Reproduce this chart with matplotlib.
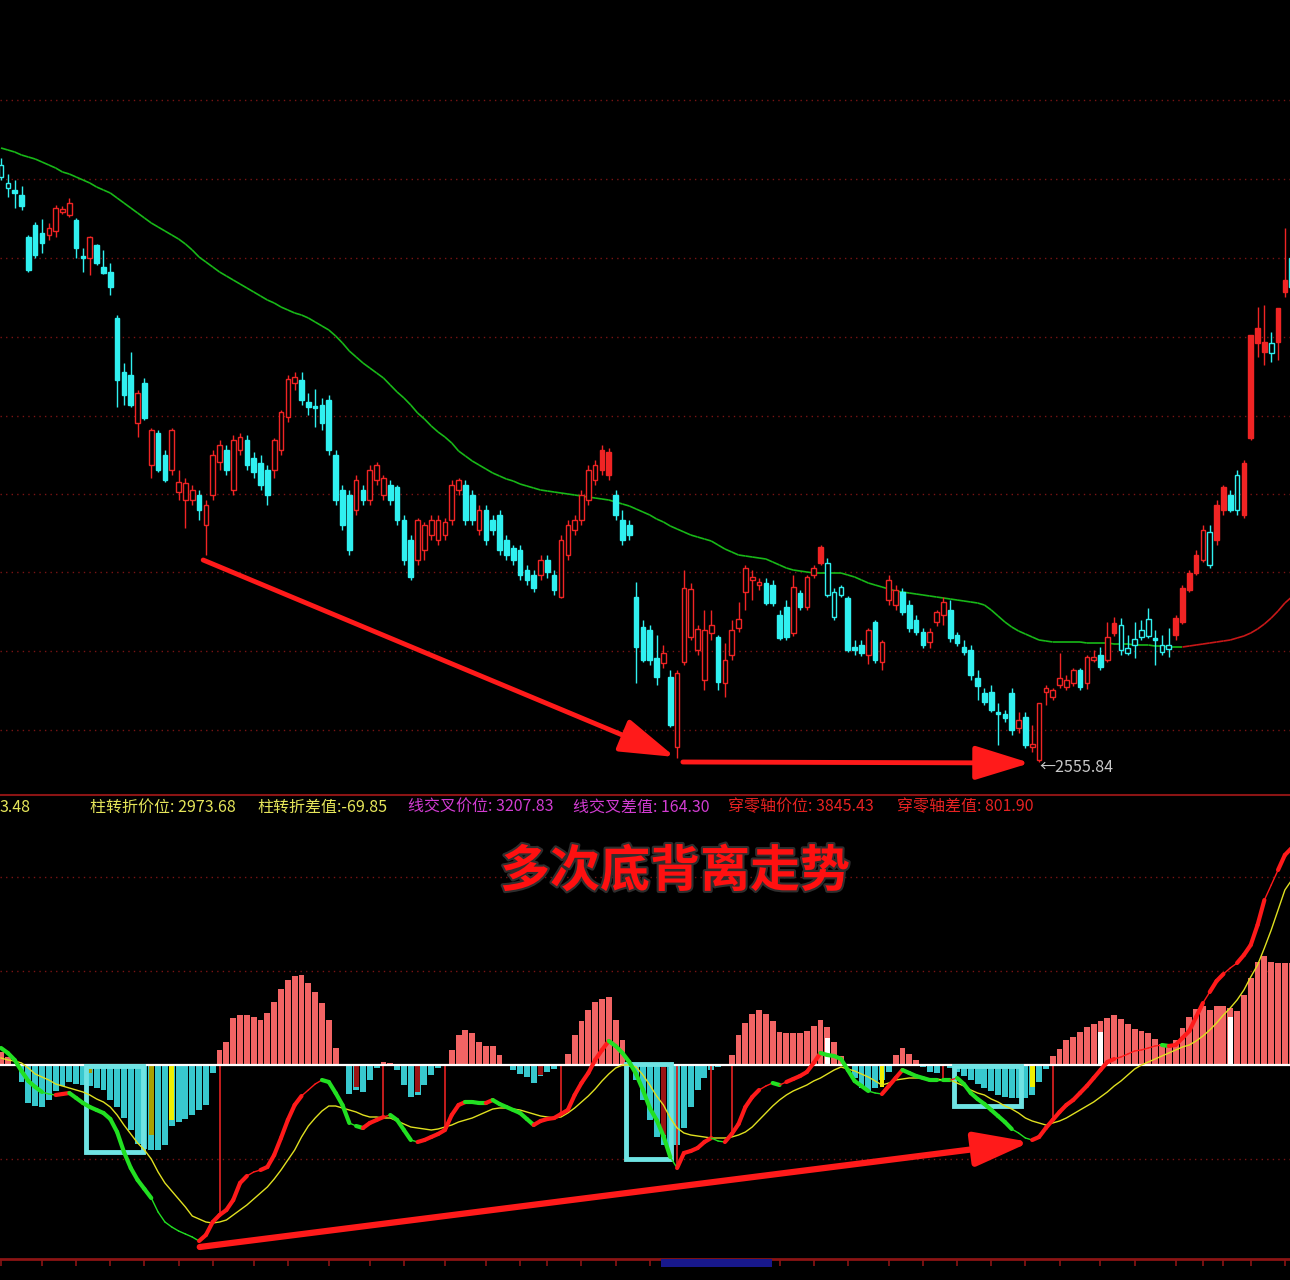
import numpy as np
import matplotlib.pyplot as plt
import matplotlib.patheffects as pe
from matplotlib.patches import Rectangle
from matplotlib.collections import LineCollection
from matplotlib.lines import Line2D

plt.rcParams['font.family'] = ['Noto Sans CJK SC', 'DejaVu Sans']

# ---- K线数据 (开 高 低 收) ----
opn = [3153, 3135, 3128, 3123, 3081, 3093, 3085, 3083, 3087, 3106,
       3103, 3098, 3062, 3060, 3073, 3051, 3046, 3000, 2946, 2943,
       2895, 2935, 2853, 2885, 2863, 2848, 2826, 2818, 2818, 2823,
       2793, 2823, 2856, 2868, 2828, 2868, 2878, 2860, 2855, 2848,
       2848, 2868, 2901, 2935, 2938, 2916, 2912, 2913, 2918, 2863,
       2828, 2823, 2808, 2828, 2818, 2838, 2823, 2833, 2831, 2798,
       2778, 2758, 2768, 2783, 2778, 2783, 2798, 2828, 2833, 2823,
       2788, 2808, 2798, 2803, 2778, 2770, 2768, 2748, 2743, 2743,
       2758, 2743, 2721, 2763, 2788, 2798, 2818, 2838, 2848, 2843,
       2823, 2798, 2793, 2721, 2691, 2688, 2660, 2655, 2641, 2571,
       2656, 2681, 2668, 2638, 2685, 2681, 2635, 2663, 2690, 2726,
       2738, 2733, 2735, 2733, 2703, 2711, 2685, 2725, 2711, 2743,
       2755, 2755, 2726, 2731, 2720, 2671, 2673, 2663, 2696, 2656,
       2718, 2713, 2726, 2713, 2698, 2686, 2676, 2696, 2703, 2708,
       2683, 2671, 2668, 2640, 2625, 2626, 2606, 2604, 2625, 2590,
       2601, 2571, 2558, 2626, 2621, 2633, 2631, 2635, 2648, 2635,
       2658, 2663, 2658, 2685, 2693, 2670, 2679, 2688, 2699, 2680,
       2673, 2673, 2683, 2696, 2728, 2745, 2758, 2786, 2778, 2808,
       2823, 2843, 2803, 2880, 2975, 2966, 2975, 2976, 3026, 3060]
high = [3160, 3144, 3138, 3132, 3083, 3096, 3099, 3095, 3113, 3112,
        3120, 3100, 3070, 3082, 3074, 3068, 3055, 3003, 2955, 2966,
        2928, 2940, 2890, 2888, 2868, 2890, 2848, 2840, 2833, 2828,
        2818, 2868, 2878, 2873, 2883, 2885, 2883, 2866, 2863, 2853,
        2880, 2908, 2943, 2946, 2946, 2925, 2929, 2920, 2923, 2868,
        2833, 2828, 2843, 2833, 2853, 2856, 2843, 2838, 2833, 2803,
        2783, 2800, 2796, 2803, 2803, 2800, 2838, 2840, 2838, 2828,
        2813, 2813, 2803, 2808, 2783, 2773, 2773, 2753, 2748, 2763,
        2763, 2748, 2783, 2798, 2803, 2828, 2853, 2858, 2873, 2870,
        2828, 2808, 2798, 2736, 2698, 2693, 2683, 2673, 2648, 2648,
        2748, 2735, 2693, 2708, 2708, 2683, 2675, 2698, 2716, 2753,
        2748, 2740, 2740, 2738, 2708, 2718, 2743, 2728, 2743, 2753,
        2773, 2760, 2730, 2733, 2722, 2678, 2678, 2690, 2698, 2678,
        2743, 2733, 2730, 2718, 2703, 2690, 2690, 2708, 2721, 2718,
        2686, 2678, 2673, 2648, 2630, 2633, 2615, 2608, 2630, 2606,
        2606, 2593, 2615, 2633, 2630, 2665, 2643, 2650, 2650, 2663,
        2668, 2671, 2696, 2701, 2700, 2683, 2696, 2698, 2710, 2688,
        2683, 2690, 2703, 2733, 2748, 2768, 2793, 2793, 2818, 2833,
        2828, 2848, 2858, 2983, 3011, 3013, 2986, 3010, 3090, 3068]
low = [3138, 3121, 3110, 3108, 3046, 3060, 3065, 3078, 3081, 3104,
       3101, 3060, 3046, 3043, 3053, 3044, 3023, 2911, 2913, 2911,
       2881, 2898, 2840, 2846, 2836, 2843, 2818, 2790, 2813, 2798,
       2763, 2818, 2848, 2843, 2823, 2863, 2848, 2840, 2828, 2813,
       2840, 2863, 2896, 2928, 2913, 2903, 2891, 2888, 2863, 2813,
       2788, 2763, 2803, 2813, 2813, 2833, 2818, 2813, 2793, 2753,
       2738, 2753, 2758, 2778, 2773, 2778, 2793, 2823, 2793, 2793,
       2783, 2773, 2783, 2763, 2758, 2753, 2738, 2733, 2726, 2738,
       2740, 2723, 2720, 2758, 2783, 2793, 2813, 2833, 2843, 2838,
       2798, 2773, 2778, 2635, 2656, 2653, 2633, 2650, 2591, 2560,
       2653, 2678, 2663, 2628, 2678, 2628, 2621, 2658, 2686, 2708,
       2718, 2728, 2713, 2712, 2678, 2678, 2682, 2708, 2708, 2740,
       2753, 2721, 2698, 2721, 2666, 2663, 2662, 2654, 2655, 2648,
       2713, 2708, 2703, 2686, 2683, 2670, 2670, 2692, 2693, 2676,
       2672, 2663, 2638, 2618, 2613, 2606, 2573, 2596, 2583, 2585,
       2570, 2566, 2555.84, 2613, 2618, 2630, 2628, 2632, 2628, 2629,
       2656, 2648, 2656, 2682, 2663, 2663, 2660, 2678, 2680, 2653,
       2663, 2661, 2678, 2694, 2726, 2743, 2756, 2750, 2773, 2803,
       2806, 2803, 2800, 2878, 2961, 2953, 2956, 2958, 3021, 3028]
close = [3141, 3130, 3125, 3112, 3048, 3063, 3075, 3090, 3110, 3109,
         3115, 3070, 3060, 3081, 3055, 3045, 3031, 2938, 2923, 2913,
         2925, 2900, 2888, 2848, 2838, 2888, 2836, 2835, 2828, 2808,
         2813, 2863, 2873, 2848, 2878, 2881, 2853, 2846, 2833, 2823,
         2878, 2906, 2939, 2941, 2918, 2911, 2910, 2895, 2868, 2818,
         2793, 2768, 2838, 2818, 2848, 2853, 2840, 2818, 2798, 2758,
         2741, 2798, 2793, 2798, 2798, 2796, 2833, 2838, 2798, 2798,
         2808, 2778, 2788, 2768, 2763, 2758, 2743, 2738, 2730, 2758,
         2746, 2728, 2778, 2793, 2798, 2823, 2848, 2853, 2868, 2866,
         2803, 2778, 2783, 2671, 2658, 2658, 2641, 2665, 2593, 2645,
         2730, 2729, 2689, 2688, 2693, 2636, 2658, 2688, 2699, 2750,
         2741, 2736, 2715, 2715, 2680, 2681, 2731, 2711, 2741, 2750,
         2771, 2723, 2701, 2723, 2668, 2668, 2665, 2688, 2658, 2676,
         2738, 2728, 2706, 2690, 2686, 2673, 2686, 2706, 2716, 2680,
         2675, 2666, 2643, 2632, 2616, 2608, 2604, 2600, 2588, 2598,
         2573, 2574, 2615, 2630, 2628, 2640, 2638, 2648, 2631, 2661,
         2661, 2651, 2681, 2695, 2668, 2665, 2673, 2681, 2682, 2678,
         2666, 2669, 2700, 2730, 2745, 2763, 2788, 2753, 2813, 2831,
         2808, 2808, 2855, 2983, 2990, 2976, 2965, 3010, 3038, 3031]
ma = [3170, 3168, 3166, 3163, 3161, 3159, 3156, 3153, 3150, 3146,
      3144, 3141, 3138, 3135, 3131, 3128, 3125, 3120, 3115, 3110,
      3105, 3100, 3095, 3091, 3087, 3083, 3079, 3074, 3068, 3061,
      3056, 3051, 3046, 3042, 3038, 3034, 3030, 3026, 3022, 3018,
      3015, 3011, 3008, 3005, 3003, 3000, 2996, 2992, 2988, 2982,
      2975, 2967, 2961, 2955, 2950, 2945, 2940, 2933, 2926, 2920,
      2913, 2905, 2899, 2892, 2886, 2881, 2875, 2867, 2862, 2857,
      2853, 2849, 2845, 2842, 2839, 2837, 2834, 2832, 2830, 2828,
      2827, 2826, 2825, 2824, 2823, 2822, 2821, 2820, 2819, 2818,
      2816, 2814, 2812, 2809, 2806, 2803, 2799, 2796, 2792, 2789,
      2786, 2783, 2781, 2779, 2777, 2773, 2769, 2766, 2763, 2762,
      2761, 2760, 2759, 2756, 2753, 2750, 2748, 2747, 2746, 2745,
      2745, 2745, 2745, 2745, 2743, 2741, 2738, 2735, 2733, 2731,
      2729, 2727, 2726, 2725, 2724, 2723, 2722, 2721, 2720, 2719,
      2718, 2717, 2716, 2715, 2713, 2708, 2702, 2696, 2691, 2687,
      2684, 2681, 2678, 2677, 2676, 2676, 2676, 2676, 2676, 2675,
      2675, 2675, 2675, 2674, 2674, 2674, 2673, 2673, 2673, 2672,
      2672, 2671, 2671, 2671, 2672, 2673, 2674, 2675, 2676, 2677,
      2678, 2680, 2682, 2685, 2689, 2694, 2700, 2707, 2715, 2721]

# ---- 指标数据 ----
dif = [8.5, 6, 2.5, -3, -8, -11, -13.5, -14.5, -15, -14.5,
       -14, -16.5, -19, -21, -22.5, -24, -27, -33.5, -43.5, -51.5,
       -57.5, -62, -66.5, -73.5, -78.5, -81, -83, -84.5, -86, -88,
       -85, -78.5, -75, -72.5, -67.5, -59, -55.5, -53.5, -52.5, -51,
       -45, -36.5, -27.5, -20, -15.5, -12.5, -9.5, -7.5, -8.5, -14,
       -20, -29, -30.5, -31.5, -29, -27.5, -26, -25, -27.5, -32.5,
       -37.5, -38.5, -37.5, -36, -34.5, -32.5, -25, -20, -18.5, -18.5,
       -19, -19, -17.5, -19.5, -21, -22.5, -24, -27, -30, -28,
       -27, -26.5, -24.5, -22.5, -15, -9, -4, 2.5, 7.5, 12,
       9.5, 6, 1.5, -4.5, -12.5, -21.5, -27.5, -35.5, -46, -51.5,
       -44, -43, -41.5, -38.5, -36.5, -38, -38.5, -34.5, -29.5, -21,
       -16, -12.5, -10.5, -9, -10, -8.5, -7, -5.5, -3.5, 1,
       6, 5, 4.5, 3, -2.5, -8, -10.5, -13, -14, -14.5,
       -10.5, -6.5, -2.5, -4, -5.5, -6.5, -7.5, -7.5, -7.5, -7.5,
       -6.5, -9.5, -14, -17, -19.5, -22.5, -25.5, -28.5, -32, -34,
       -36.5, -37.5, -36, -31.5, -27.5, -23.5, -20, -17.5, -14, -10.5,
       -6.5, -2.5, 1.5, 3, 4, 5.5, 7, 7.5, 8.5, 9.5,
       10, 9.5, 10, 13.5, 17, 24, 31, 36.5, 42, 45.5,
       48.5, 51, 55, 60, 70, 82.5, 90, 97.5, 105, 108.5]
dea = [3.5, 2.5, 2, 1, -1.5, -4.5, -6, -7.5, -9.5, -10.5,
       -11.5, -12.5, -13.5, -15, -17, -18.5, -21, -25, -30, -34.5,
       -39, -42.5, -47, -53.5, -59, -63, -67, -71, -75.5, -77,
       -78.5, -79, -78.5, -77.5, -75, -72.5, -70, -67, -64, -61,
       -57, -52.5, -47.5, -42.5, -36, -30.5, -26.5, -23, -20.5, -20.5,
       -21.5, -22.5, -23.5, -25, -26, -26, -26.5, -26.5, -28, -29.5,
       -31, -31.5, -32, -32.5, -32, -31, -30, -28.5, -27.5, -26.5,
       -25, -23.5, -22, -21.5, -21.5, -22, -22.5, -23.5, -24.5, -25.5,
       -26, -26.5, -26, -24, -21.5, -18.5, -15.5, -12, -8, -4.5,
       -1.5, 0, 0, -1, -5, -10, -15.5, -20, -26.5, -31.5,
       -34, -35, -35.5, -36, -36.5, -36.5, -36.5, -36, -35, -33.5,
       -31, -27.5, -24, -20.5, -17.5, -15, -13, -11.5, -10, -8,
       -6.5, -4.5, -2.5, -1, -2, -3, -4.5, -6, -8, -10,
       -9, -7.5, -7, -6.5, -6.5, -6.5, -7, -7, -7.5, -7.5,
       -9, -10.5, -12.5, -14, -15, -17, -18.5, -20.5, -22, -24,
       -26.5, -28, -29, -30, -29, -28, -26.5, -24.5, -22.5, -20.5,
       -18.5, -16, -13.5, -10.5, -8, -5, -2, 0, 1.5, 3,
       4.5, 6, 7.5, 9, 10, 12, 14.5, 17.5, 21, 25,
       28.5, 32.5, 37.5, 44, 50, 58.5, 67.5, 77.5, 87.5, 92.5]
hist = [6.5, 4, 0.5, -8.5, -19, -20.5, -21, -17.5, -13, -10.5,
        -8.5, -9.5, -10, -10.5, -11.5, -12.5, -17.5, -21, -26.5, -32.5,
        -39.5, -42, -42.5, -42.5, -40, -30.5, -28.5, -27, -25, -22.5,
        -20, -4, 7.5, 11.5, 23.5, 25, 25, 24, 22.5, 26,
        31.5, 38, 42.5, 44.5, 45, 41, 36.5, 31, 22.5, 8.5,
        -0.5, -14.5, -12.5, -13.5, -7.5, -1.5, 1.5, 1, -2.5, -10,
        -16, -15, -10, -5, -1.5, 0, 7.5, 15, 17.5, 16,
        11.5, 9.5, 9.5, 5, -0.5, -2.5, -4.5, -6, -9, -5.5,
        -3.5, -2, 0.5, 5.5, 15, 22, 27.5, 31.5, 33, 34,
        22.5, 12.5, 1.5, -7.5, -17.5, -27.5, -36, -40, -42, -40,
        -31.5, -21, -12.5, -6.5, -2.5, -1, 0, 5, 15, 21,
        25.5, 27.5, 25.5, 22, 16.5, 16, 16, 16, 17, 19.5,
        22.5, 19, 11.5, 4.5, 0, -6.5, -11.5, -13, -11.5, -7.5,
        -3.5, 5, 8.5, 5.5, 2.5, -1, -3.5, -4, 0.5, -1.5,
        -3.5, -5.5, -7.5, -9.5, -11.5, -13, -15, -16, -16.5, -16.5,
        -16.5, -15, -8.5, -2, 4.5, 8, 12.5, 14, 16.5, 19,
        20.5, 22, 23.5, 25, 23, 20.5, 18, 17, 16, 13,
        10.5, 9.5, 12.5, 18.5, 24, 28, 29.5, 27.5, 29.5, 29.5,
        28.5, 27, 35, 43.5, 51.5, 54.5, 51.5, 51, 51, 51]

# 空心阴线 / 实心阳线
hollow_down = [0, 1, 121, 122, 123, 164, 165, 166, 167, 168, 170, 171, 177, 181, 186]
solid_up = [88, 89, 120, 163, 172, 173, 174, 175, 178, 179, 182, 183, 184, 185, 187, 188]

# 信号柱
olive_idx, olive_val = [13, 22], [-4, -35]
yellow_idx, yellow_val = [25, 129, 151], [-27.5, -11, -11]
dkred_idx, dkred_val = [52, 61, 79, 97], [-11, -13.5, -5, -35]
white_idx, white_val = [121, 161, 180], [13.5, 16.5, 24]
cross_idx = [32, 56, 65, 82, 99, 104, 107, 138, 154]

low_label = '←2555.84'
info = [('3.48', 0, '#E6E65A'),
        ('柱转折价位: 2973.68', 90, '#E6E65A'),
        ('柱转折差值:-69.85', 257, '#E6E65A'),
        ('线交叉价位: 3207.83', 408, '#D23CD2'),
        ('线交叉差值: 164.30', 573, '#D23CD2'),
        ('穿零轴价位: 3845.43', 728, '#E62222'),
        ('穿零轴差值: 801.90', 897, '#E62222')]
title = '多次底背离走势'

RED = '#F02424'
CYAN = '#30F0F0'
GRID = '#7A1414'

x = np.arange(len(close))

fig = plt.figure(figsize=(12.9, 12.8), dpi=100)
fig.patch.set_facecolor('black')

# ---------- 主图 ----------
ax1 = fig.add_axes([0, 485/1280, 1, 795/1280])
ax1.set_xlim(-0.15, 188.75)
ax1.set_ylim(2523, 3318)
ax1.axis('off')

for lv in [3218, 3139, 3060, 2981, 2902, 2824, 2746, 2667, 2588]:
    ax1.axhline(lv, color=GRID, lw=1, ls=(0, (1, 3)), zorder=0)

w = 0.68
for i in x:
    o, h, l, c = opn[i], high[i], low[i], close[i]
    up = c > o
    col = RED if up else CYAN
    top, bot = max(o, c), min(o, c)
    ax1.vlines(i, top, h, color=col, lw=1, zorder=2)
    ax1.vlines(i, l, bot, color=col, lw=1, zorder=2)
    filled = (up and i in solid_up) or (not up and i not in hollow_down)
    ax1.add_patch(Rectangle((i - w/2, bot), w, max(top - bot, 1.0),
                            facecolor=col if filled else 'black',
                            edgecolor=col, lw=1, zorder=3))

pts = np.column_stack([x, ma])
segs = np.stack([pts[:-1], pts[1:]], axis=1)
ma_cols = ['#C81818' if ma[i+1] > ma[i] else '#18B818' for i in range(len(ma) - 1)]
ax1.add_collection(LineCollection(segs, colors=ma_cols, linewidths=1.2, zorder=1))

arrow = dict(arrowstyle='-|>,head_length=3.4,head_width=1.05', color='#FF1A1A',
             lw=3.5, mutation_scale=10, shrinkA=0, shrinkB=0)
ax1.annotate('', xy=(98.7, 2561), xytext=(29.6, 2758), arrowprops=arrow, zorder=5)
ax1.annotate('', xy=(150.7, 2555), xytext=(99.85, 2556), arrowprops=arrow, zorder=5)
ax1.text(152.0, 2551, low_label, color='#C8C8C8', fontsize=11.5, va='center', ha='left')

fig.add_artist(Line2D([0, 1], [485/1280, 485/1280], color='#8B1414', lw=1.5))

for txt, px, col in info:
    fig.text(px/1290, 1 - 807/1280, txt, color=col, fontsize=11.5, va='center', ha='left')

# ---------- 副图 ----------
ax2 = fig.add_axes([0, 21/1280, 1, 463/1280])
ax2.set_facecolor('black')
ax2.set_xlim(-0.15, 188.75)
ax2.set_ylim(-97, 134.5)
for s in ['top', 'left', 'right']:
    ax2.spines[s].set_visible(False)
ax2.spines['bottom'].set_color('#8B1414')
ax2.spines['bottom'].set_linewidth(2)
ax2.set_yticks([])
ax2.set_xticks([0, 6, 11, 16, 21, 26, 31, 37, 42, 48, 54, 59, 65, 71, 76, 80, 85, 90,
                95, 100, 105, 110, 114, 119, 124, 130, 135, 140, 145, 150, 155, 161,
                166, 172, 176, 179, 183, 188])
ax2.tick_params(axis='x', colors='#8B1414', length=5, width=1.2, labelbottom=False)

for lv in [94, 47, -47]:
    ax2.axhline(lv, color=GRID, lw=1, ls=(0, (1, 3)), zorder=0)

bar_cols = ['#F26464' if v >= 0 else '#38C8CE' for v in hist]
ax2.bar(x, hist, width=0.86, color=bar_cols, linewidth=0, zorder=2)
ax2.bar(olive_idx, olive_val, width=0.7, color='#A8A000', linewidth=0, zorder=2.5)
ax2.bar(yellow_idx, yellow_val, width=0.7, color='#F0F000', linewidth=0, zorder=2.5)
ax2.bar(dkred_idx, dkred_val, width=0.7, color='#9A1414', linewidth=0, zorder=2.5)
ax2.bar(white_idx, white_val, width=0.7, color='white', linewidth=0, zorder=2.5)
ax2.vlines(cross_idx, [dif[i] for i in cross_idx], 0, color='#D42020', lw=1.3, zorder=2.6)
ax2.axhline(0, color='white', lw=1.6, zorder=3)

for (x0, x1, y0, y1) in [(12.4, 20.8, -43.4, -0.5), (91.5, 98.1, -47, 0.5), (139.5, 149.3, -20.5, -0.5)]:
    ax2.add_patch(Rectangle((x0, y0), x1 - x0, y1 - y0, fill=False,
                            edgecolor='#6FE3E3', lw=3.5, zorder=4))

ax2.plot(x, dea, color='#E0E020', lw=1, zorder=5)

pts = np.column_stack([x, dif])
segs = np.stack([pts[:-1], pts[1:]], axis=1)
d_cols, d_lw = [], []
for i in range(len(dif) - 1):
    rising = dif[i+1] > dif[i]
    h_up = hist[i+1] >= hist[i]
    d_cols.append('#FF1A1A' if rising else '#22E022')
    d_lw.append(3.0 if rising == h_up else 1.0)
ax2.add_collection(LineCollection(segs, colors=d_cols, linewidths=d_lw, zorder=6,
                                  capstyle='round'))

arrow2 = dict(arrowstyle='-|>,head_length=3.4,head_width=1.05', color='#FF1A1A',
              lw=4.5, mutation_scale=10, shrinkA=0, shrinkB=0)
ax2.annotate('', xy=(150.7, -38.5), xytext=(29.1, -91), arrowprops=arrow2, zorder=7)

fig.text(675/1290, 1 - 872/1280, title, ha='center', va='center', fontsize=36,
         fontweight='bold', color='#FF1010',
         path_effects=[pe.withStroke(linewidth=3, foreground='#2E2E2E')])

fig.add_artist(Rectangle((661/1290, 13/1280), 111/1290, 8/1280, transform=fig.transFigure,
                         facecolor='#18188C', edgecolor='none'))

fig.savefig('out.png', dpi=100, facecolor='black')
